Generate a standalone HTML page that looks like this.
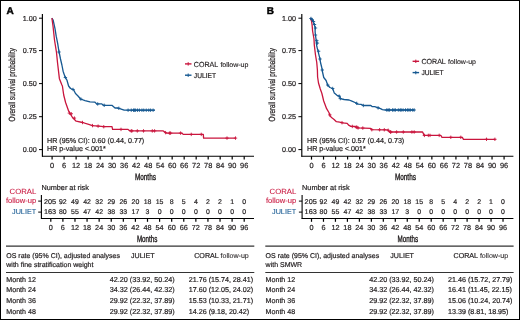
<!DOCTYPE html>
<html><head><meta charset="utf-8"><style>
html,body{margin:0;padding:0;background:#fff;overflow:hidden;}
svg{display:block;font-family:'Liberation Sans', sans-serif;will-change:transform;text-rendering:geometricPrecision;}
</style></head><body>
<svg width="520" height="320" viewBox="0 0 520 320">
<rect x="0" y="0" width="520" height="320" fill="#fff"/>
<rect x="0.5" y="0.5" width="519" height="319" fill="none" stroke="#000" stroke-width="1"/>
<g transform="translate(0,0)"><text x="6.6" y="13.7" font-size="10" font-weight="bold" fill="#000" stroke="#000" stroke-width="0.45">A</text></g>
<line x1="42.4" y1="14" x2="42.4" y2="156.8" stroke="#000" stroke-width="1.15"/><line x1="42" y1="156.2" x2="254" y2="156.2" stroke="#000" stroke-width="1.05"/><line x1="39" y1="18.20" x2="42.5" y2="18.20" stroke="#000" stroke-width="1"/><text x="36.7" y="20.8" font-size="7.2" fill="#231f20" text-anchor="end" stroke="#231f20" stroke-width="0.2">1.00</text><line x1="39" y1="50.60" x2="42.5" y2="50.60" stroke="#000" stroke-width="1"/><text x="36.7" y="53.2" font-size="7.2" fill="#231f20" text-anchor="end" stroke="#231f20" stroke-width="0.2">0.75</text><line x1="39" y1="83.60" x2="42.5" y2="83.60" stroke="#000" stroke-width="1"/><text x="36.7" y="86.2" font-size="7.2" fill="#231f20" text-anchor="end" stroke="#231f20" stroke-width="0.2">0.50</text><line x1="39" y1="116.70" x2="42.5" y2="116.70" stroke="#000" stroke-width="1"/><text x="36.7" y="119.3" font-size="7.2" fill="#231f20" text-anchor="end" stroke="#231f20" stroke-width="0.2">0.25</text><line x1="39" y1="149.60" x2="42.5" y2="149.60" stroke="#000" stroke-width="1"/><text x="36.7" y="152.2" font-size="7.2" fill="#231f20" text-anchor="end" stroke="#231f20" stroke-width="0.2">0.00</text><line x1="52.10" y1="156.2" x2="52.10" y2="159.6" stroke="#000" stroke-width="1.2"/><text x="52.1" y="167.7" font-size="7.4" fill="#231f20" text-anchor="middle" stroke="#231f20" stroke-width="0.2">0</text><line x1="64.11" y1="156.2" x2="64.11" y2="159.6" stroke="#000" stroke-width="1.2"/><text x="64.11" y="167.7" font-size="7.4" fill="#231f20" text-anchor="middle" stroke="#231f20" stroke-width="0.2">6</text><line x1="76.11" y1="156.2" x2="76.11" y2="159.6" stroke="#000" stroke-width="1.2"/><text x="76.11" y="167.7" font-size="7.4" fill="#231f20" text-anchor="middle" stroke="#231f20" stroke-width="0.2">12</text><line x1="88.12" y1="156.2" x2="88.12" y2="159.6" stroke="#000" stroke-width="1.2"/><text x="88.12" y="167.7" font-size="7.4" fill="#231f20" text-anchor="middle" stroke="#231f20" stroke-width="0.2">18</text><line x1="100.12" y1="156.2" x2="100.12" y2="159.6" stroke="#000" stroke-width="1.2"/><text x="100.12" y="167.7" font-size="7.4" fill="#231f20" text-anchor="middle" stroke="#231f20" stroke-width="0.2">24</text><line x1="112.13" y1="156.2" x2="112.13" y2="159.6" stroke="#000" stroke-width="1.2"/><text x="112.13" y="167.7" font-size="7.4" fill="#231f20" text-anchor="middle" stroke="#231f20" stroke-width="0.2">30</text><line x1="124.14" y1="156.2" x2="124.14" y2="159.6" stroke="#000" stroke-width="1.2"/><text x="124.14" y="167.7" font-size="7.4" fill="#231f20" text-anchor="middle" stroke="#231f20" stroke-width="0.2">36</text><line x1="136.14" y1="156.2" x2="136.14" y2="159.6" stroke="#000" stroke-width="1.2"/><text x="136.14" y="167.7" font-size="7.4" fill="#231f20" text-anchor="middle" stroke="#231f20" stroke-width="0.2">42</text><line x1="148.15" y1="156.2" x2="148.15" y2="159.6" stroke="#000" stroke-width="1.2"/><text x="148.15" y="167.7" font-size="7.4" fill="#231f20" text-anchor="middle" stroke="#231f20" stroke-width="0.2">48</text><line x1="160.15" y1="156.2" x2="160.15" y2="159.6" stroke="#000" stroke-width="1.2"/><text x="160.15" y="167.7" font-size="7.4" fill="#231f20" text-anchor="middle" stroke="#231f20" stroke-width="0.2">54</text><line x1="172.16" y1="156.2" x2="172.16" y2="159.6" stroke="#000" stroke-width="1.2"/><text x="172.16" y="167.7" font-size="7.4" fill="#231f20" text-anchor="middle" stroke="#231f20" stroke-width="0.2">60</text><line x1="184.17" y1="156.2" x2="184.17" y2="159.6" stroke="#000" stroke-width="1.2"/><text x="184.17" y="167.7" font-size="7.4" fill="#231f20" text-anchor="middle" stroke="#231f20" stroke-width="0.2">66</text><line x1="196.17" y1="156.2" x2="196.17" y2="159.6" stroke="#000" stroke-width="1.2"/><text x="196.17" y="167.7" font-size="7.4" fill="#231f20" text-anchor="middle" stroke="#231f20" stroke-width="0.2">72</text><line x1="208.18" y1="156.2" x2="208.18" y2="159.6" stroke="#000" stroke-width="1.2"/><text x="208.18" y="167.7" font-size="7.4" fill="#231f20" text-anchor="middle" stroke="#231f20" stroke-width="0.2">78</text><line x1="220.18" y1="156.2" x2="220.18" y2="159.6" stroke="#000" stroke-width="1.2"/><text x="220.18" y="167.7" font-size="7.4" fill="#231f20" text-anchor="middle" stroke="#231f20" stroke-width="0.2">84</text><line x1="232.19" y1="156.2" x2="232.19" y2="159.6" stroke="#000" stroke-width="1.2"/><text x="232.19" y="167.7" font-size="7.4" fill="#231f20" text-anchor="middle" stroke="#231f20" stroke-width="0.2">90</text><line x1="244.20" y1="156.2" x2="244.20" y2="159.6" stroke="#000" stroke-width="1.2"/><text x="244.2" y="167.7" font-size="7.4" fill="#231f20" text-anchor="middle" stroke="#231f20" stroke-width="0.2">96</text>
<g transform="translate(0,0)"><text transform="translate(15.2,84.85) rotate(-90)" x="0" y="0" font-size="9.0" fill="#231f20" text-anchor="middle" textLength="73.5" lengthAdjust="spacingAndGlyphs" stroke="#231f20" stroke-width="0.24">Overall survival probability</text><text transform="translate(145.4,179.5) scale(0.69,1)" x="0" y="0" font-size="9.3" fill="#231f20" stroke="#231f20" stroke-width="0.4" text-anchor="middle">Months</text></g>
<g transform="translate(0,0)"><text x="47" y="142.6" font-size="7.18" fill="#231f20" stroke="#231f20" stroke-width="0.2">HR (95% CI): 0.60 (0.44, 0.77)</text><text x="47" y="151.2" font-size="7.18" fill="#231f20" stroke="#231f20" stroke-width="0.2">HR p-value &lt;.001*</text></g>
<line x1="185" y1="63.9" x2="191.5" y2="63.9" stroke="#c9153d" stroke-width="1.4"/><line x1="188.2" y1="62.199999999999996" x2="188.2" y2="65.6" stroke="#c9153d" stroke-width="1"/><text x="193.8" y="66.7" font-size="7.4" fill="#231f20" textLength="24.4" lengthAdjust="spacingAndGlyphs" stroke="#231f20" stroke-width="0.16">CORAL</text><text x="220.4" y="66.7" font-size="6.8" fill="#231f20" textLength="28.0" lengthAdjust="spacingAndGlyphs" stroke="#231f20" stroke-width="0.12">follow-up</text><line x1="185" y1="75.2" x2="191.5" y2="75.2" stroke="#155891" stroke-width="1.4"/><line x1="188.2" y1="73.5" x2="188.2" y2="76.9" stroke="#155891" stroke-width="1"/><text x="193.8" y="78.0" font-size="7.3" fill="#231f20" textLength="22.2" lengthAdjust="spacingAndGlyphs" stroke="#231f20" stroke-width="0.2">JULIET</text>
<path d="M51.90,18.10 L53.10,20.00 L55.00,28.70 L56.20,36.20 L57.70,43.70 L58.70,50.00 L59.70,55.00 L60.50,59.00 L61.90,65.00 L63.10,71.20 L65.00,76.90 L66.90,80.00 L68.60,86.00 L70.50,88.50 L73.60,89.70 L75.50,93.50 L78.00,96.00 L80.60,99.00 L85.00,100.60 L90.00,101.90 L95.00,102.20 L96.90,104.10 L98.50,103.80 L101.50,103.80 L103.50,105.30 L111.90,105.30 L115.00,108.00 L118.00,108.00 L121.20,109.10 L124.20,110.20 L155.00,110.20" fill="none" stroke="#155891" stroke-width="1.3" stroke-linejoin="round"/><path d="M51.90,18.10 L53.00,26.00 L54.50,40.00 L56.50,52.50 L57.50,62.50 L59.40,78.70 L61.90,85.00 L62.40,86.00 L63.70,95.00 L65.60,102.50 L68.70,111.20 L72.50,117.50 L76.20,121.20 L82.50,122.50 L88.70,124.40 L92.50,125.60 L98.70,126.20 L103.70,126.70 L112.00,126.70 L112.60,129.40 L128.10,129.40 L130.00,130.90 L163.30,130.90 L166.20,133.10 L182.00,133.10 L183.20,134.40 L203.30,134.40 L203.60,138.10 L235.50,138.10" fill="none" stroke="#c9153d" stroke-width="1.3" stroke-linejoin="round"/><path d="M131.25,108.50V111.90M129.55,110.20H132.95" stroke="#155891" stroke-width="0.9" fill="none"/><path d="M133.50,108.50V111.90M131.80,110.20H135.20" stroke="#155891" stroke-width="0.9" fill="none"/><path d="M134.40,108.50V111.90M132.70,110.20H136.10" stroke="#155891" stroke-width="0.9" fill="none"/><path d="M135.60,108.50V111.90M133.90,110.20H137.30" stroke="#155891" stroke-width="0.9" fill="none"/><path d="M137.50,108.50V111.90M135.80,110.20H139.20" stroke="#155891" stroke-width="0.9" fill="none"/><path d="M139.40,108.50V111.90M137.70,110.20H141.10" stroke="#155891" stroke-width="0.9" fill="none"/><path d="M141.90,108.50V111.90M140.20,110.20H143.60" stroke="#155891" stroke-width="0.9" fill="none"/><path d="M143.75,108.50V111.90M142.05,110.20H145.45" stroke="#155891" stroke-width="0.9" fill="none"/><path d="M146.25,108.50V111.90M144.55,110.20H147.95" stroke="#155891" stroke-width="0.9" fill="none"/><path d="M148.75,108.50V111.90M147.05,110.20H150.45" stroke="#155891" stroke-width="0.9" fill="none"/><path d="M150.60,108.50V111.90M148.90,110.20H152.30" stroke="#155891" stroke-width="0.9" fill="none"/><path d="M153.10,108.50V111.90M151.40,110.20H154.80" stroke="#155891" stroke-width="0.9" fill="none"/><path d="M59.00,50.30V53.70M57.30,52.00H60.70" stroke="#155891" stroke-width="0.9" fill="none"/><path d="M65.40,75.80V79.20M63.70,77.50H67.10" stroke="#155891" stroke-width="0.9" fill="none"/><path d="M73.00,87.77V91.17M71.30,89.47H74.70" stroke="#155891" stroke-width="0.9" fill="none"/><path d="M80.90,97.41V100.81M79.20,99.11H82.60" stroke="#155891" stroke-width="0.9" fill="none"/><path d="M97.70,102.25V105.65M96.00,103.95H99.40" stroke="#155891" stroke-width="0.9" fill="none"/><path d="M104.20,103.60V107.00M102.50,105.30H105.90" stroke="#155891" stroke-width="0.9" fill="none"/><path d="M118.80,106.57V109.97M117.10,108.27H120.50" stroke="#155891" stroke-width="0.9" fill="none"/><path d="M128.10,108.50V111.90M126.40,110.20H129.80" stroke="#155891" stroke-width="0.9" fill="none"/><path d="M131.20,129.20V132.60M129.50,130.90H132.90" stroke="#c9153d" stroke-width="0.9" fill="none"/><path d="M131.90,129.20V132.60M130.20,130.90H133.60" stroke="#c9153d" stroke-width="0.9" fill="none"/><path d="M137.30,129.20V132.60M135.60,130.90H139.00" stroke="#c9153d" stroke-width="0.9" fill="none"/><path d="M143.50,129.20V132.60M141.80,130.90H145.20" stroke="#c9153d" stroke-width="0.9" fill="none"/><path d="M152.30,129.20V132.60M150.60,130.90H154.00" stroke="#c9153d" stroke-width="0.9" fill="none"/><path d="M154.60,129.20V132.60M152.90,130.90H156.30" stroke="#c9153d" stroke-width="0.9" fill="none"/><path d="M165.60,130.94V134.34M163.90,132.64H167.30" stroke="#c9153d" stroke-width="0.9" fill="none"/><path d="M169.40,131.40V134.80M167.70,133.10H171.10" stroke="#c9153d" stroke-width="0.9" fill="none"/><path d="M170.60,131.40V134.80M168.90,133.10H172.30" stroke="#c9153d" stroke-width="0.9" fill="none"/><path d="M180.60,131.40V134.80M178.90,133.10H182.30" stroke="#c9153d" stroke-width="0.9" fill="none"/><path d="M191.25,132.70V136.10M189.55,134.40H192.95" stroke="#c9153d" stroke-width="0.9" fill="none"/><path d="M201.25,132.70V136.10M199.55,134.40H202.95" stroke="#c9153d" stroke-width="0.9" fill="none"/><path d="M227.00,136.40V139.80M225.30,138.10H228.70" stroke="#c9153d" stroke-width="0.9" fill="none"/><path d="M235.50,136.40V139.80M233.80,138.10H237.20" stroke="#c9153d" stroke-width="0.9" fill="none"/><path d="M69.40,111.40V114.80M67.70,113.10H71.10" stroke="#c9153d" stroke-width="0.9" fill="none"/><path d="M71.25,112.05V115.45M69.55,113.75H72.95" stroke="#c9153d" stroke-width="0.9" fill="none"/><path d="M74.40,116.40V119.80M72.70,118.10H76.10" stroke="#c9153d" stroke-width="0.9" fill="none"/><path d="M82.50,120.80V124.20M80.80,122.50H84.20" stroke="#c9153d" stroke-width="0.9" fill="none"/><path d="M92.50,123.90V127.30M90.80,125.60H94.20" stroke="#c9153d" stroke-width="0.9" fill="none"/><path d="M98.10,124.44V127.84M96.40,126.14H99.80" stroke="#c9153d" stroke-width="0.9" fill="none"/><path d="M103.75,125.00V128.40M102.05,126.70H105.45" stroke="#c9153d" stroke-width="0.9" fill="none"/><path d="M121.00,127.70V131.10M119.30,129.40H122.70" stroke="#c9153d" stroke-width="0.9" fill="none"/>
<g transform="translate(0,0)"><text x="36.2" y="194.2" font-size="7.6" fill="#c9153d" text-anchor="end" textLength="26.6" lengthAdjust="spacingAndGlyphs" stroke="#c9153d" stroke-width="0.08">CORAL</text><text x="36.2" y="203.3" font-size="7.5" fill="#c9153d" text-anchor="end" textLength="30.3" lengthAdjust="spacingAndGlyphs" stroke="#c9153d" stroke-width="0.08">follow-up</text><text x="36.2" y="214.1" font-size="7.3" fill="#155891" text-anchor="end" textLength="24.2" lengthAdjust="spacingAndGlyphs" stroke="#155891" stroke-width="0.08">JULIET</text></g>
<text x="41.4" y="190.1" font-size="7.3" fill="#231f20" stroke="#231f20" stroke-width="0.2">Number at risk</text><line x1="41.4" y1="195" x2="41.4" y2="219" stroke="#000" stroke-width="1.1"/><line x1="41" y1="218.4" x2="254" y2="218.4" stroke="#000" stroke-width="1.05"/><line x1="38.2" y1="201.1" x2="41.4" y2="201.1" stroke="#000" stroke-width="1"/><line x1="38.2" y1="212.1" x2="41.4" y2="212.1" stroke="#000" stroke-width="1"/><text x="50.0" y="203.8" font-size="7.0" fill="#231f20" text-anchor="middle" textLength="12.2" lengthAdjust="spacingAndGlyphs" stroke="#231f20" stroke-width="0.2">205</text><text x="50.0" y="214.4" font-size="7.0" fill="#231f20" text-anchor="middle" textLength="12.2" lengthAdjust="spacingAndGlyphs" stroke="#231f20" stroke-width="0.2">163</text><line x1="50.80" y1="218.4" x2="50.80" y2="221.8" stroke="#000" stroke-width="1.2"/><text x="50.8" y="229.8" font-size="7.25" fill="#231f20" text-anchor="middle" stroke="#231f20" stroke-width="0.2">0</text><text x="62.89" y="203.8" font-size="6.95" fill="#231f20" text-anchor="middle" stroke="#231f20" stroke-width="0.2">92</text><text x="62.89" y="214.4" font-size="6.95" fill="#231f20" text-anchor="middle" stroke="#231f20" stroke-width="0.2">80</text><line x1="62.89" y1="218.4" x2="62.89" y2="221.8" stroke="#000" stroke-width="1.2"/><text x="62.89" y="229.8" font-size="7.25" fill="#231f20" text-anchor="middle" stroke="#231f20" stroke-width="0.2">6</text><text x="74.98" y="203.8" font-size="6.95" fill="#231f20" text-anchor="middle" stroke="#231f20" stroke-width="0.2">49</text><text x="74.98" y="214.4" font-size="6.95" fill="#231f20" text-anchor="middle" stroke="#231f20" stroke-width="0.2">55</text><line x1="74.98" y1="218.4" x2="74.98" y2="221.8" stroke="#000" stroke-width="1.2"/><text x="74.98" y="229.8" font-size="7.25" fill="#231f20" text-anchor="middle" stroke="#231f20" stroke-width="0.2">12</text><text x="87.06" y="203.8" font-size="6.95" fill="#231f20" text-anchor="middle" stroke="#231f20" stroke-width="0.2">42</text><text x="87.06" y="214.4" font-size="6.95" fill="#231f20" text-anchor="middle" stroke="#231f20" stroke-width="0.2">47</text><line x1="87.06" y1="218.4" x2="87.06" y2="221.8" stroke="#000" stroke-width="1.2"/><text x="87.06" y="229.8" font-size="7.25" fill="#231f20" text-anchor="middle" stroke="#231f20" stroke-width="0.2">18</text><text x="99.15" y="203.8" font-size="6.95" fill="#231f20" text-anchor="middle" stroke="#231f20" stroke-width="0.2">32</text><text x="99.15" y="214.4" font-size="6.95" fill="#231f20" text-anchor="middle" stroke="#231f20" stroke-width="0.2">42</text><line x1="99.15" y1="218.4" x2="99.15" y2="221.8" stroke="#000" stroke-width="1.2"/><text x="99.15" y="229.8" font-size="7.25" fill="#231f20" text-anchor="middle" stroke="#231f20" stroke-width="0.2">24</text><text x="111.24" y="203.8" font-size="6.95" fill="#231f20" text-anchor="middle" stroke="#231f20" stroke-width="0.2">29</text><text x="111.24" y="214.4" font-size="6.95" fill="#231f20" text-anchor="middle" stroke="#231f20" stroke-width="0.2">38</text><line x1="111.24" y1="218.4" x2="111.24" y2="221.8" stroke="#000" stroke-width="1.2"/><text x="111.24" y="229.8" font-size="7.25" fill="#231f20" text-anchor="middle" stroke="#231f20" stroke-width="0.2">30</text><text x="123.33" y="203.8" font-size="6.95" fill="#231f20" text-anchor="middle" stroke="#231f20" stroke-width="0.2">26</text><text x="123.33" y="214.4" font-size="6.95" fill="#231f20" text-anchor="middle" stroke="#231f20" stroke-width="0.2">33</text><line x1="123.33" y1="218.4" x2="123.33" y2="221.8" stroke="#000" stroke-width="1.2"/><text x="123.33" y="229.8" font-size="7.25" fill="#231f20" text-anchor="middle" stroke="#231f20" stroke-width="0.2">36</text><text x="135.41" y="203.8" font-size="6.95" fill="#231f20" text-anchor="middle" stroke="#231f20" stroke-width="0.2">20</text><text x="135.41" y="214.4" font-size="6.95" fill="#231f20" text-anchor="middle" stroke="#231f20" stroke-width="0.2">17</text><line x1="135.41" y1="218.4" x2="135.41" y2="221.8" stroke="#000" stroke-width="1.2"/><text x="135.41" y="229.8" font-size="7.25" fill="#231f20" text-anchor="middle" stroke="#231f20" stroke-width="0.2">42</text><text x="147.5" y="203.8" font-size="6.95" fill="#231f20" text-anchor="middle" stroke="#231f20" stroke-width="0.2">18</text><text x="147.5" y="214.4" font-size="6.95" fill="#231f20" text-anchor="middle" stroke="#231f20" stroke-width="0.2">3</text><line x1="147.50" y1="218.4" x2="147.50" y2="221.8" stroke="#000" stroke-width="1.2"/><text x="147.5" y="229.8" font-size="7.25" fill="#231f20" text-anchor="middle" stroke="#231f20" stroke-width="0.2">48</text><text x="159.59" y="203.8" font-size="6.95" fill="#231f20" text-anchor="middle" stroke="#231f20" stroke-width="0.2">15</text><text x="159.59" y="214.4" font-size="6.95" fill="#231f20" text-anchor="middle" stroke="#231f20" stroke-width="0.2">0</text><line x1="159.59" y1="218.4" x2="159.59" y2="221.8" stroke="#000" stroke-width="1.2"/><text x="159.59" y="229.8" font-size="7.25" fill="#231f20" text-anchor="middle" stroke="#231f20" stroke-width="0.2">54</text><text x="171.68" y="203.8" font-size="6.95" fill="#231f20" text-anchor="middle" stroke="#231f20" stroke-width="0.2">8</text><text x="171.68" y="214.4" font-size="6.95" fill="#231f20" text-anchor="middle" stroke="#231f20" stroke-width="0.2">0</text><line x1="171.68" y1="218.4" x2="171.68" y2="221.8" stroke="#000" stroke-width="1.2"/><text x="171.68" y="229.8" font-size="7.25" fill="#231f20" text-anchor="middle" stroke="#231f20" stroke-width="0.2">60</text><text x="183.76" y="203.8" font-size="6.95" fill="#231f20" text-anchor="middle" stroke="#231f20" stroke-width="0.2">5</text><text x="183.76" y="214.4" font-size="6.95" fill="#231f20" text-anchor="middle" stroke="#231f20" stroke-width="0.2">0</text><line x1="183.76" y1="218.4" x2="183.76" y2="221.8" stroke="#000" stroke-width="1.2"/><text x="183.76" y="229.8" font-size="7.25" fill="#231f20" text-anchor="middle" stroke="#231f20" stroke-width="0.2">66</text><text x="195.85" y="203.8" font-size="6.95" fill="#231f20" text-anchor="middle" stroke="#231f20" stroke-width="0.2">4</text><text x="195.85" y="214.4" font-size="6.95" fill="#231f20" text-anchor="middle" stroke="#231f20" stroke-width="0.2">0</text><line x1="195.85" y1="218.4" x2="195.85" y2="221.8" stroke="#000" stroke-width="1.2"/><text x="195.85" y="229.8" font-size="7.25" fill="#231f20" text-anchor="middle" stroke="#231f20" stroke-width="0.2">72</text><text x="207.94" y="203.8" font-size="6.95" fill="#231f20" text-anchor="middle" stroke="#231f20" stroke-width="0.2">2</text><text x="207.94" y="214.4" font-size="6.95" fill="#231f20" text-anchor="middle" stroke="#231f20" stroke-width="0.2">0</text><line x1="207.94" y1="218.4" x2="207.94" y2="221.8" stroke="#000" stroke-width="1.2"/><text x="207.94" y="229.8" font-size="7.25" fill="#231f20" text-anchor="middle" stroke="#231f20" stroke-width="0.2">78</text><text x="220.03" y="203.8" font-size="6.95" fill="#231f20" text-anchor="middle" stroke="#231f20" stroke-width="0.2">2</text><text x="220.03" y="214.4" font-size="6.95" fill="#231f20" text-anchor="middle" stroke="#231f20" stroke-width="0.2">0</text><line x1="220.03" y1="218.4" x2="220.03" y2="221.8" stroke="#000" stroke-width="1.2"/><text x="220.03" y="229.8" font-size="7.25" fill="#231f20" text-anchor="middle" stroke="#231f20" stroke-width="0.2">84</text><text x="232.11" y="203.8" font-size="6.95" fill="#231f20" text-anchor="middle" stroke="#231f20" stroke-width="0.2">1</text><text x="232.11" y="214.4" font-size="6.95" fill="#231f20" text-anchor="middle" stroke="#231f20" stroke-width="0.2">0</text><line x1="232.11" y1="218.4" x2="232.11" y2="221.8" stroke="#000" stroke-width="1.2"/><text x="232.11" y="229.8" font-size="7.25" fill="#231f20" text-anchor="middle" stroke="#231f20" stroke-width="0.2">90</text><text x="244.2" y="203.8" font-size="6.95" fill="#231f20" text-anchor="middle" stroke="#231f20" stroke-width="0.2">0</text><text x="244.2" y="214.4" font-size="6.95" fill="#231f20" text-anchor="middle" stroke="#231f20" stroke-width="0.2">0</text><line x1="244.20" y1="218.4" x2="244.20" y2="221.8" stroke="#000" stroke-width="1.2"/><text x="244.2" y="229.8" font-size="7.25" fill="#231f20" text-anchor="middle" stroke="#231f20" stroke-width="0.2">96</text><text transform="translate(147.1,242.4) scale(0.67,1)" x="0" y="0" font-size="9.3" fill="#231f20" stroke="#231f20" stroke-width="0.4" text-anchor="middle">Months</text>
<g transform="translate(0,0)"><line x1="6" y1="246.1" x2="254.3" y2="246.1" stroke="#333" stroke-width="1.3"/><line x1="6" y1="272.5" x2="254.3" y2="272.5" stroke="#333" stroke-width="1.05"/><text x="6.3" y="257.8" font-size="7.0" fill="#231f20" stroke="#231f20" stroke-width="0.2">OS rate (95% CI), adjusted analyses</text><text x="6.3" y="266.6" font-size="7.0" fill="#231f20" stroke="#231f20" stroke-width="0.2">with fine stratification weight</text><text x="131" y="257.9" font-size="7.1" fill="#231f20" stroke="#231f20" stroke-width="0.2">JULIET</text><text x="194.2" y="257.9" font-size="7.2" fill="#231f20" textLength="24.6" lengthAdjust="spacingAndGlyphs" stroke="#231f20" stroke-width="0.2">CORAL</text><text x="220.6" y="257.9" font-size="6.9" fill="#231f20" textLength="28.2" lengthAdjust="spacingAndGlyphs" stroke="#231f20" stroke-width="0.08">follow-up</text><text x="6.3" y="281.7" font-size="7.1" fill="#231f20" stroke="#231f20" stroke-width="0.2">Month 12</text><text x="174.6" y="281.7" font-size="7.2" fill="#231f20" text-anchor="end" stroke="#231f20" stroke-width="0.2">42.20 (33.92, 50.24)</text><text x="188.8" y="281.7" font-size="7.15" fill="#231f20" stroke="#231f20" stroke-width="0.2">21.76 (15.74, 28.41)</text><text x="6.3" y="292.47" font-size="7.1" fill="#231f20" stroke="#231f20" stroke-width="0.2">Month 24</text><text x="174.6" y="292.47" font-size="7.2" fill="#231f20" text-anchor="end" stroke="#231f20" stroke-width="0.2">34.32 (26.44, 42.32)</text><text x="188.8" y="292.47" font-size="7.15" fill="#231f20" stroke="#231f20" stroke-width="0.2">17.60 (12.05, 24.02)</text><text x="6.3" y="303.24" font-size="7.1" fill="#231f20" stroke="#231f20" stroke-width="0.2">Month 36</text><text x="174.6" y="303.24" font-size="7.2" fill="#231f20" text-anchor="end" stroke="#231f20" stroke-width="0.2">29.92 (22.32, 37.89)</text><text x="188.8" y="303.24" font-size="7.15" fill="#231f20" stroke="#231f20" stroke-width="0.2">15.53 (10.33, 21.71)</text><text x="6.3" y="314.01" font-size="7.1" fill="#231f20" stroke="#231f20" stroke-width="0.2">Month 48</text><text x="174.6" y="314.01" font-size="7.2" fill="#231f20" text-anchor="end" stroke="#231f20" stroke-width="0.2">29.92 (22.32, 37.89)</text><text x="188.8" y="314.01" font-size="7.15" fill="#231f20" stroke="#231f20" stroke-width="0.2">14.26 (9.18, 20.42)</text></g>
<g transform="translate(260.2,0)"><text x="6.6" y="13.7" font-size="10" font-weight="bold" fill="#000" stroke="#000" stroke-width="0.45">B</text></g>
<line x1="301.79999999999995" y1="14" x2="301.79999999999995" y2="156.8" stroke="#000" stroke-width="1.15"/><line x1="301.4" y1="156.2" x2="513.4" y2="156.2" stroke="#000" stroke-width="1.05"/><line x1="298.4" y1="18.20" x2="301.9" y2="18.20" stroke="#000" stroke-width="1"/><text x="296.1" y="20.8" font-size="7.2" fill="#231f20" text-anchor="end" stroke="#231f20" stroke-width="0.2">1.00</text><line x1="298.4" y1="50.60" x2="301.9" y2="50.60" stroke="#000" stroke-width="1"/><text x="296.1" y="53.2" font-size="7.2" fill="#231f20" text-anchor="end" stroke="#231f20" stroke-width="0.2">0.75</text><line x1="298.4" y1="83.60" x2="301.9" y2="83.60" stroke="#000" stroke-width="1"/><text x="296.1" y="86.2" font-size="7.2" fill="#231f20" text-anchor="end" stroke="#231f20" stroke-width="0.2">0.50</text><line x1="298.4" y1="116.70" x2="301.9" y2="116.70" stroke="#000" stroke-width="1"/><text x="296.1" y="119.3" font-size="7.2" fill="#231f20" text-anchor="end" stroke="#231f20" stroke-width="0.2">0.25</text><line x1="298.4" y1="149.60" x2="301.9" y2="149.60" stroke="#000" stroke-width="1"/><text x="296.1" y="152.2" font-size="7.2" fill="#231f20" text-anchor="end" stroke="#231f20" stroke-width="0.2">0.00</text><line x1="311.50" y1="156.2" x2="311.50" y2="159.6" stroke="#000" stroke-width="1.2"/><text x="311.5" y="167.7" font-size="7.4" fill="#231f20" text-anchor="middle" stroke="#231f20" stroke-width="0.2">0</text><line x1="323.54" y1="156.2" x2="323.54" y2="159.6" stroke="#000" stroke-width="1.2"/><text x="323.54" y="167.7" font-size="7.4" fill="#231f20" text-anchor="middle" stroke="#231f20" stroke-width="0.2">6</text><line x1="335.57" y1="156.2" x2="335.57" y2="159.6" stroke="#000" stroke-width="1.2"/><text x="335.57" y="167.7" font-size="7.4" fill="#231f20" text-anchor="middle" stroke="#231f20" stroke-width="0.2">12</text><line x1="347.61" y1="156.2" x2="347.61" y2="159.6" stroke="#000" stroke-width="1.2"/><text x="347.61" y="167.7" font-size="7.4" fill="#231f20" text-anchor="middle" stroke="#231f20" stroke-width="0.2">18</text><line x1="359.64" y1="156.2" x2="359.64" y2="159.6" stroke="#000" stroke-width="1.2"/><text x="359.64" y="167.7" font-size="7.4" fill="#231f20" text-anchor="middle" stroke="#231f20" stroke-width="0.2">24</text><line x1="371.68" y1="156.2" x2="371.68" y2="159.6" stroke="#000" stroke-width="1.2"/><text x="371.68" y="167.7" font-size="7.4" fill="#231f20" text-anchor="middle" stroke="#231f20" stroke-width="0.2">30</text><line x1="383.72" y1="156.2" x2="383.72" y2="159.6" stroke="#000" stroke-width="1.2"/><text x="383.72" y="167.7" font-size="7.4" fill="#231f20" text-anchor="middle" stroke="#231f20" stroke-width="0.2">36</text><line x1="395.75" y1="156.2" x2="395.75" y2="159.6" stroke="#000" stroke-width="1.2"/><text x="395.75" y="167.7" font-size="7.4" fill="#231f20" text-anchor="middle" stroke="#231f20" stroke-width="0.2">42</text><line x1="407.79" y1="156.2" x2="407.79" y2="159.6" stroke="#000" stroke-width="1.2"/><text x="407.79" y="167.7" font-size="7.4" fill="#231f20" text-anchor="middle" stroke="#231f20" stroke-width="0.2">48</text><line x1="419.82" y1="156.2" x2="419.82" y2="159.6" stroke="#000" stroke-width="1.2"/><text x="419.82" y="167.7" font-size="7.4" fill="#231f20" text-anchor="middle" stroke="#231f20" stroke-width="0.2">54</text><line x1="431.86" y1="156.2" x2="431.86" y2="159.6" stroke="#000" stroke-width="1.2"/><text x="431.86" y="167.7" font-size="7.4" fill="#231f20" text-anchor="middle" stroke="#231f20" stroke-width="0.2">60</text><line x1="443.90" y1="156.2" x2="443.90" y2="159.6" stroke="#000" stroke-width="1.2"/><text x="443.9" y="167.7" font-size="7.4" fill="#231f20" text-anchor="middle" stroke="#231f20" stroke-width="0.2">66</text><line x1="455.93" y1="156.2" x2="455.93" y2="159.6" stroke="#000" stroke-width="1.2"/><text x="455.93" y="167.7" font-size="7.4" fill="#231f20" text-anchor="middle" stroke="#231f20" stroke-width="0.2">72</text><line x1="467.97" y1="156.2" x2="467.97" y2="159.6" stroke="#000" stroke-width="1.2"/><text x="467.97" y="167.7" font-size="7.4" fill="#231f20" text-anchor="middle" stroke="#231f20" stroke-width="0.2">78</text><line x1="480.00" y1="156.2" x2="480.00" y2="159.6" stroke="#000" stroke-width="1.2"/><text x="480.0" y="167.7" font-size="7.4" fill="#231f20" text-anchor="middle" stroke="#231f20" stroke-width="0.2">84</text><line x1="492.04" y1="156.2" x2="492.04" y2="159.6" stroke="#000" stroke-width="1.2"/><text x="492.04" y="167.7" font-size="7.4" fill="#231f20" text-anchor="middle" stroke="#231f20" stroke-width="0.2">90</text><line x1="504.08" y1="156.2" x2="504.08" y2="159.6" stroke="#000" stroke-width="1.2"/><text x="504.08" y="167.7" font-size="7.4" fill="#231f20" text-anchor="middle" stroke="#231f20" stroke-width="0.2">96</text>
<g transform="translate(260,0)"><text transform="translate(15.2,84.85) rotate(-90)" x="0" y="0" font-size="9.0" fill="#231f20" text-anchor="middle" textLength="73.5" lengthAdjust="spacingAndGlyphs" stroke="#231f20" stroke-width="0.24">Overall survival probability</text><text transform="translate(145.4,179.5) scale(0.69,1)" x="0" y="0" font-size="9.3" fill="#231f20" stroke="#231f20" stroke-width="0.4" text-anchor="middle">Months</text></g>
<g transform="translate(260,0)"><text x="47" y="142.6" font-size="7.18" fill="#231f20" stroke="#231f20" stroke-width="0.2">HR (95% CI): 0.57 (0.44, 0.73)</text><text x="47" y="151.2" font-size="7.18" fill="#231f20" stroke="#231f20" stroke-width="0.2">HR p-value &lt;.001*</text></g>
<line x1="412.6" y1="61.3" x2="419.1" y2="61.3" stroke="#c9153d" stroke-width="1.4"/><line x1="415.8" y1="59.599999999999994" x2="415.8" y2="63.0" stroke="#c9153d" stroke-width="1"/><text x="421.4" y="64.1" font-size="7.4" fill="#231f20" textLength="24.4" lengthAdjust="spacingAndGlyphs" stroke="#231f20" stroke-width="0.16">CORAL</text><text x="448.0" y="64.1" font-size="6.8" fill="#231f20" textLength="28.0" lengthAdjust="spacingAndGlyphs" stroke="#231f20" stroke-width="0.12">follow-up</text><line x1="412.6" y1="72.6" x2="419.1" y2="72.6" stroke="#155891" stroke-width="1.4"/><line x1="415.8" y1="70.89999999999999" x2="415.8" y2="74.3" stroke="#155891" stroke-width="1"/><text x="421.4" y="75.4" font-size="7.3" fill="#231f20" textLength="22.2" lengthAdjust="spacingAndGlyphs" stroke="#231f20" stroke-width="0.2">JULIET</text>
<path d="M310.20,18.10 L311.50,19.00 L313.00,21.00 L314.00,24.00 L315.00,27.00 L315.20,33.00 L315.50,35.00 L316.10,40.00 L316.75,46.20 L318.00,51.20 L319.90,58.70 L320.50,62.50 L321.75,67.50 L322.30,71.00 L323.75,77.50 L326.10,80.50 L327.70,85.00 L329.90,87.50 L332.70,88.50 L334.30,93.10 L337.00,95.30 L339.80,96.40 L340.30,98.60 L344.10,99.50 L349.10,100.00 L351.30,100.80 L356.20,103.00 L357.80,104.10 L361.10,104.30 L363.30,105.50 L370.90,105.50 L372.30,106.70 L374.70,106.70 L377.60,107.70 L380.50,108.65 L382.40,109.60 L385.30,110.00 L414.20,110.00" fill="none" stroke="#155891" stroke-width="1.3" stroke-linejoin="round"/><path d="M310.30,18.10 L311.50,21.00 L312.10,25.00 L312.60,31.00 L314.00,39.00 L314.30,45.00 L315.50,55.00 L316.75,62.50 L317.40,70.00 L317.60,77.00 L318.50,83.00 L320.30,89.00 L321.90,93.50 L323.70,101.00 L325.20,105.00 L326.60,108.70 L328.90,112.50 L330.30,116.20 L332.20,118.10 L334.10,119.50 L336.40,121.70 L339.70,122.10 L342.50,122.80 L347.20,123.30 L348.60,125.10 L350.90,126.40 L355.00,126.50 L358.10,127.90 L370.60,128.30 L371.80,129.70 L387.80,129.80 L389.60,132.00 L422.60,132.00 L424.20,135.40 L440.80,135.40 L442.00,137.30 L462.30,137.30 L463.50,139.30 L495.40,139.30" fill="none" stroke="#c9153d" stroke-width="1.3" stroke-linejoin="round"/><path d="M311.00,16.80V20.20M309.30,18.50H312.70" stroke="#155891" stroke-width="0.9" fill="none"/><path d="M312.00,17.80V21.20M310.30,19.50H313.70" stroke="#155891" stroke-width="0.9" fill="none"/><path d="M313.50,19.80V23.20M311.80,21.50H315.20" stroke="#155891" stroke-width="0.9" fill="none"/><path d="M314.50,22.80V26.20M312.80,24.50H316.20" stroke="#155891" stroke-width="0.9" fill="none"/><path d="M315.50,26.30V29.70M313.80,28.00H317.20" stroke="#155891" stroke-width="0.9" fill="none"/><path d="M315.50,33.30V36.70M313.80,35.00H317.20" stroke="#155891" stroke-width="0.9" fill="none"/><path d="M316.75,38.90V42.30M315.05,40.60H318.45" stroke="#155891" stroke-width="0.9" fill="none"/><path d="M317.40,41.40V44.80M315.70,43.10H319.10" stroke="#155891" stroke-width="0.9" fill="none"/><path d="M318.60,49.55V52.95M316.90,51.25H320.30" stroke="#155891" stroke-width="0.9" fill="none"/><path d="M320.00,57.30V60.70M318.30,59.00H321.70" stroke="#155891" stroke-width="0.9" fill="none"/><path d="M322.30,68.30V71.70M320.60,70.00H324.00" stroke="#155891" stroke-width="0.9" fill="none"/><path d="M327.70,83.30V86.70M326.00,85.00H329.40" stroke="#155891" stroke-width="0.9" fill="none"/><path d="M332.70,86.80V90.20M331.00,88.50H334.40" stroke="#155891" stroke-width="0.9" fill="none"/><path d="M339.20,94.46V97.86M337.50,96.16H340.90" stroke="#155891" stroke-width="0.9" fill="none"/><path d="M340.30,96.90V100.30M338.60,98.60H342.00" stroke="#155891" stroke-width="0.9" fill="none"/><path d="M356.70,101.64V105.04M355.00,103.34H358.40" stroke="#155891" stroke-width="0.9" fill="none"/><path d="M363.30,103.80V107.20M361.60,105.50H365.00" stroke="#155891" stroke-width="0.9" fill="none"/><path d="M378.10,106.16V109.56M376.40,107.86H379.80" stroke="#155891" stroke-width="0.9" fill="none"/><path d="M386.75,108.30V111.70M385.05,110.00H388.45" stroke="#155891" stroke-width="0.9" fill="none"/><path d="M388.20,108.30V111.70M386.50,110.00H389.90" stroke="#155891" stroke-width="0.9" fill="none"/><path d="M389.60,108.30V111.70M387.90,110.00H391.30" stroke="#155891" stroke-width="0.9" fill="none"/><path d="M392.50,108.30V111.70M390.80,110.00H394.20" stroke="#155891" stroke-width="0.9" fill="none"/><path d="M394.00,108.30V111.70M392.30,110.00H395.70" stroke="#155891" stroke-width="0.9" fill="none"/><path d="M395.40,108.30V111.70M393.70,110.00H397.10" stroke="#155891" stroke-width="0.9" fill="none"/><path d="M398.30,108.30V111.70M396.60,110.00H400.00" stroke="#155891" stroke-width="0.9" fill="none"/><path d="M400.20,108.30V111.70M398.50,110.00H401.90" stroke="#155891" stroke-width="0.9" fill="none"/><path d="M401.20,108.30V111.70M399.50,110.00H402.90" stroke="#155891" stroke-width="0.9" fill="none"/><path d="M403.10,108.30V111.70M401.40,110.00H404.80" stroke="#155891" stroke-width="0.9" fill="none"/><path d="M405.50,108.30V111.70M403.80,110.00H407.20" stroke="#155891" stroke-width="0.9" fill="none"/><path d="M407.40,108.30V111.70M405.70,110.00H409.10" stroke="#155891" stroke-width="0.9" fill="none"/><path d="M408.90,108.30V111.70M407.20,110.00H410.60" stroke="#155891" stroke-width="0.9" fill="none"/><path d="M410.30,108.30V111.70M408.60,110.00H412.00" stroke="#155891" stroke-width="0.9" fill="none"/><path d="M412.70,108.30V111.70M411.00,110.00H414.40" stroke="#155891" stroke-width="0.9" fill="none"/><path d="M414.20,108.30V111.70M412.50,110.00H415.90" stroke="#155891" stroke-width="0.9" fill="none"/><path d="M329.80,113.18V116.58M328.10,114.88H331.50" stroke="#c9153d" stroke-width="0.9" fill="none"/><path d="M342.00,120.97V124.38M340.30,122.67H343.70" stroke="#c9153d" stroke-width="0.9" fill="none"/><path d="M352.30,124.73V128.13M350.60,126.43H354.00" stroke="#c9153d" stroke-width="0.9" fill="none"/><path d="M356.20,125.34V128.74M354.50,127.04H357.90" stroke="#c9153d" stroke-width="0.9" fill="none"/><path d="M357.00,125.70V129.10M355.30,127.40H358.70" stroke="#c9153d" stroke-width="0.9" fill="none"/><path d="M358.10,126.20V129.60M356.40,127.90H359.80" stroke="#c9153d" stroke-width="0.9" fill="none"/><path d="M362.80,126.35V129.75M361.10,128.05H364.50" stroke="#c9153d" stroke-width="0.9" fill="none"/><path d="M371.80,128.00V131.40M370.10,129.70H373.50" stroke="#c9153d" stroke-width="0.9" fill="none"/><path d="M379.60,128.05V131.45M377.90,129.75H381.30" stroke="#c9153d" stroke-width="0.9" fill="none"/><path d="M384.30,128.08V131.48M382.60,129.78H386.00" stroke="#c9153d" stroke-width="0.9" fill="none"/><path d="M388.20,128.59V131.99M386.50,130.29H389.90" stroke="#c9153d" stroke-width="0.9" fill="none"/><path d="M390.50,130.30V133.70M388.80,132.00H392.20" stroke="#c9153d" stroke-width="0.9" fill="none"/><path d="M390.80,130.30V133.70M389.10,132.00H392.50" stroke="#c9153d" stroke-width="0.9" fill="none"/><path d="M396.60,130.30V133.70M394.90,132.00H398.30" stroke="#c9153d" stroke-width="0.9" fill="none"/><path d="M403.30,130.30V133.70M401.60,132.00H405.00" stroke="#c9153d" stroke-width="0.9" fill="none"/><path d="M411.90,130.30V133.70M410.20,132.00H413.60" stroke="#c9153d" stroke-width="0.9" fill="none"/><path d="M414.20,130.30V133.70M412.50,132.00H415.90" stroke="#c9153d" stroke-width="0.9" fill="none"/><path d="M424.40,133.70V137.10M422.70,135.40H426.10" stroke="#c9153d" stroke-width="0.9" fill="none"/><path d="M428.30,133.70V137.10M426.60,135.40H430.00" stroke="#c9153d" stroke-width="0.9" fill="none"/><path d="M430.00,133.70V137.10M428.30,135.40H431.70" stroke="#c9153d" stroke-width="0.9" fill="none"/><path d="M439.20,133.70V137.10M437.50,135.40H440.90" stroke="#c9153d" stroke-width="0.9" fill="none"/><path d="M450.80,135.60V139.00M449.10,137.30H452.50" stroke="#c9153d" stroke-width="0.9" fill="none"/><path d="M460.80,135.60V139.00M459.10,137.30H462.50" stroke="#c9153d" stroke-width="0.9" fill="none"/><path d="M486.50,137.60V141.00M484.80,139.30H488.20" stroke="#c9153d" stroke-width="0.9" fill="none"/><path d="M494.90,137.60V141.00M493.20,139.30H496.60" stroke="#c9153d" stroke-width="0.9" fill="none"/>
<g transform="translate(260,0)"><text x="36.2" y="194.2" font-size="7.6" fill="#c9153d" text-anchor="end" textLength="26.6" lengthAdjust="spacingAndGlyphs" stroke="#c9153d" stroke-width="0.08">CORAL</text><text x="36.2" y="203.3" font-size="7.5" fill="#c9153d" text-anchor="end" textLength="30.3" lengthAdjust="spacingAndGlyphs" stroke="#c9153d" stroke-width="0.08">follow-up</text><text x="36.2" y="214.1" font-size="7.3" fill="#155891" text-anchor="end" textLength="24.2" lengthAdjust="spacingAndGlyphs" stroke="#155891" stroke-width="0.08">JULIET</text></g>
<text x="302.1" y="190.1" font-size="7.3" fill="#231f20" stroke="#231f20" stroke-width="0.2">Number at risk</text><line x1="302.09999999999997" y1="195" x2="302.09999999999997" y2="219" stroke="#000" stroke-width="1.1"/><line x1="301.7" y1="218.4" x2="513.4" y2="218.4" stroke="#000" stroke-width="1.05"/><line x1="298.9" y1="201.1" x2="302.09999999999997" y2="201.1" stroke="#000" stroke-width="1"/><line x1="298.9" y1="212.1" x2="302.09999999999997" y2="212.1" stroke="#000" stroke-width="1"/><text x="310.7" y="203.8" font-size="7.0" fill="#231f20" text-anchor="middle" textLength="12.2" lengthAdjust="spacingAndGlyphs" stroke="#231f20" stroke-width="0.2">205</text><text x="310.7" y="214.4" font-size="7.0" fill="#231f20" text-anchor="middle" textLength="12.2" lengthAdjust="spacingAndGlyphs" stroke="#231f20" stroke-width="0.2">163</text><line x1="311.50" y1="218.4" x2="311.50" y2="221.8" stroke="#000" stroke-width="1.2"/><text x="311.5" y="229.8" font-size="7.25" fill="#231f20" text-anchor="middle" stroke="#231f20" stroke-width="0.2">0</text><text x="323.47" y="203.8" font-size="6.95" fill="#231f20" text-anchor="middle" stroke="#231f20" stroke-width="0.2">92</text><text x="323.47" y="214.4" font-size="6.95" fill="#231f20" text-anchor="middle" stroke="#231f20" stroke-width="0.2">80</text><line x1="323.47" y1="218.4" x2="323.47" y2="221.8" stroke="#000" stroke-width="1.2"/><text x="323.47" y="229.8" font-size="7.25" fill="#231f20" text-anchor="middle" stroke="#231f20" stroke-width="0.2">6</text><text x="335.44" y="203.8" font-size="6.95" fill="#231f20" text-anchor="middle" stroke="#231f20" stroke-width="0.2">49</text><text x="335.44" y="214.4" font-size="6.95" fill="#231f20" text-anchor="middle" stroke="#231f20" stroke-width="0.2">55</text><line x1="335.44" y1="218.4" x2="335.44" y2="221.8" stroke="#000" stroke-width="1.2"/><text x="335.44" y="229.8" font-size="7.25" fill="#231f20" text-anchor="middle" stroke="#231f20" stroke-width="0.2">12</text><text x="347.41" y="203.8" font-size="6.95" fill="#231f20" text-anchor="middle" stroke="#231f20" stroke-width="0.2">42</text><text x="347.41" y="214.4" font-size="6.95" fill="#231f20" text-anchor="middle" stroke="#231f20" stroke-width="0.2">47</text><line x1="347.41" y1="218.4" x2="347.41" y2="221.8" stroke="#000" stroke-width="1.2"/><text x="347.41" y="229.8" font-size="7.25" fill="#231f20" text-anchor="middle" stroke="#231f20" stroke-width="0.2">18</text><text x="359.38" y="203.8" font-size="6.95" fill="#231f20" text-anchor="middle" stroke="#231f20" stroke-width="0.2">32</text><text x="359.38" y="214.4" font-size="6.95" fill="#231f20" text-anchor="middle" stroke="#231f20" stroke-width="0.2">42</text><line x1="359.38" y1="218.4" x2="359.38" y2="221.8" stroke="#000" stroke-width="1.2"/><text x="359.38" y="229.8" font-size="7.25" fill="#231f20" text-anchor="middle" stroke="#231f20" stroke-width="0.2">24</text><text x="371.35" y="203.8" font-size="6.95" fill="#231f20" text-anchor="middle" stroke="#231f20" stroke-width="0.2">29</text><text x="371.35" y="214.4" font-size="6.95" fill="#231f20" text-anchor="middle" stroke="#231f20" stroke-width="0.2">38</text><line x1="371.35" y1="218.4" x2="371.35" y2="221.8" stroke="#000" stroke-width="1.2"/><text x="371.35" y="229.8" font-size="7.25" fill="#231f20" text-anchor="middle" stroke="#231f20" stroke-width="0.2">30</text><text x="383.32" y="203.8" font-size="6.95" fill="#231f20" text-anchor="middle" stroke="#231f20" stroke-width="0.2">26</text><text x="383.32" y="214.4" font-size="6.95" fill="#231f20" text-anchor="middle" stroke="#231f20" stroke-width="0.2">33</text><line x1="383.32" y1="218.4" x2="383.32" y2="221.8" stroke="#000" stroke-width="1.2"/><text x="383.32" y="229.8" font-size="7.25" fill="#231f20" text-anchor="middle" stroke="#231f20" stroke-width="0.2">36</text><text x="395.29" y="203.8" font-size="6.95" fill="#231f20" text-anchor="middle" stroke="#231f20" stroke-width="0.2">20</text><text x="395.29" y="214.4" font-size="6.95" fill="#231f20" text-anchor="middle" stroke="#231f20" stroke-width="0.2">17</text><line x1="395.29" y1="218.4" x2="395.29" y2="221.8" stroke="#000" stroke-width="1.2"/><text x="395.29" y="229.8" font-size="7.25" fill="#231f20" text-anchor="middle" stroke="#231f20" stroke-width="0.2">42</text><text x="407.26" y="203.8" font-size="6.95" fill="#231f20" text-anchor="middle" stroke="#231f20" stroke-width="0.2">18</text><text x="407.26" y="214.4" font-size="6.95" fill="#231f20" text-anchor="middle" stroke="#231f20" stroke-width="0.2">3</text><line x1="407.26" y1="218.4" x2="407.26" y2="221.8" stroke="#000" stroke-width="1.2"/><text x="407.26" y="229.8" font-size="7.25" fill="#231f20" text-anchor="middle" stroke="#231f20" stroke-width="0.2">48</text><text x="419.23" y="203.8" font-size="6.95" fill="#231f20" text-anchor="middle" stroke="#231f20" stroke-width="0.2">15</text><text x="419.23" y="214.4" font-size="6.95" fill="#231f20" text-anchor="middle" stroke="#231f20" stroke-width="0.2">0</text><line x1="419.23" y1="218.4" x2="419.23" y2="221.8" stroke="#000" stroke-width="1.2"/><text x="419.23" y="229.8" font-size="7.25" fill="#231f20" text-anchor="middle" stroke="#231f20" stroke-width="0.2">54</text><text x="431.2" y="203.8" font-size="6.95" fill="#231f20" text-anchor="middle" stroke="#231f20" stroke-width="0.2">8</text><text x="431.2" y="214.4" font-size="6.95" fill="#231f20" text-anchor="middle" stroke="#231f20" stroke-width="0.2">0</text><line x1="431.20" y1="218.4" x2="431.20" y2="221.8" stroke="#000" stroke-width="1.2"/><text x="431.2" y="229.8" font-size="7.25" fill="#231f20" text-anchor="middle" stroke="#231f20" stroke-width="0.2">60</text><text x="443.17" y="203.8" font-size="6.95" fill="#231f20" text-anchor="middle" stroke="#231f20" stroke-width="0.2">5</text><text x="443.17" y="214.4" font-size="6.95" fill="#231f20" text-anchor="middle" stroke="#231f20" stroke-width="0.2">0</text><line x1="443.17" y1="218.4" x2="443.17" y2="221.8" stroke="#000" stroke-width="1.2"/><text x="443.17" y="229.8" font-size="7.25" fill="#231f20" text-anchor="middle" stroke="#231f20" stroke-width="0.2">66</text><text x="455.14" y="203.8" font-size="6.95" fill="#231f20" text-anchor="middle" stroke="#231f20" stroke-width="0.2">4</text><text x="455.14" y="214.4" font-size="6.95" fill="#231f20" text-anchor="middle" stroke="#231f20" stroke-width="0.2">0</text><line x1="455.14" y1="218.4" x2="455.14" y2="221.8" stroke="#000" stroke-width="1.2"/><text x="455.14" y="229.8" font-size="7.25" fill="#231f20" text-anchor="middle" stroke="#231f20" stroke-width="0.2">72</text><text x="467.11" y="203.8" font-size="6.95" fill="#231f20" text-anchor="middle" stroke="#231f20" stroke-width="0.2">2</text><text x="467.11" y="214.4" font-size="6.95" fill="#231f20" text-anchor="middle" stroke="#231f20" stroke-width="0.2">0</text><line x1="467.11" y1="218.4" x2="467.11" y2="221.8" stroke="#000" stroke-width="1.2"/><text x="467.11" y="229.8" font-size="7.25" fill="#231f20" text-anchor="middle" stroke="#231f20" stroke-width="0.2">78</text><text x="479.08" y="203.8" font-size="6.95" fill="#231f20" text-anchor="middle" stroke="#231f20" stroke-width="0.2">2</text><text x="479.08" y="214.4" font-size="6.95" fill="#231f20" text-anchor="middle" stroke="#231f20" stroke-width="0.2">0</text><line x1="479.08" y1="218.4" x2="479.08" y2="221.8" stroke="#000" stroke-width="1.2"/><text x="479.08" y="229.8" font-size="7.25" fill="#231f20" text-anchor="middle" stroke="#231f20" stroke-width="0.2">84</text><text x="491.05" y="203.8" font-size="6.95" fill="#231f20" text-anchor="middle" stroke="#231f20" stroke-width="0.2">1</text><text x="491.05" y="214.4" font-size="6.95" fill="#231f20" text-anchor="middle" stroke="#231f20" stroke-width="0.2">0</text><line x1="491.05" y1="218.4" x2="491.05" y2="221.8" stroke="#000" stroke-width="1.2"/><text x="491.05" y="229.8" font-size="7.25" fill="#231f20" text-anchor="middle" stroke="#231f20" stroke-width="0.2">90</text><text x="503.02" y="203.8" font-size="6.95" fill="#231f20" text-anchor="middle" stroke="#231f20" stroke-width="0.2">0</text><text x="503.02" y="214.4" font-size="6.95" fill="#231f20" text-anchor="middle" stroke="#231f20" stroke-width="0.2">0</text><line x1="503.02" y1="218.4" x2="503.02" y2="221.8" stroke="#000" stroke-width="1.2"/><text x="503.02" y="229.8" font-size="7.25" fill="#231f20" text-anchor="middle" stroke="#231f20" stroke-width="0.2">96</text><text transform="translate(407.79999999999995,242.4) scale(0.67,1)" x="0" y="0" font-size="9.3" fill="#231f20" stroke="#231f20" stroke-width="0.4" text-anchor="middle">Months</text>
<g transform="translate(259.3,0)"><line x1="6" y1="246.1" x2="254.3" y2="246.1" stroke="#333" stroke-width="1.3"/><line x1="6" y1="272.5" x2="254.3" y2="272.5" stroke="#333" stroke-width="1.05"/><text x="6.3" y="257.8" font-size="7.0" fill="#231f20" stroke="#231f20" stroke-width="0.2">OS rate (95% CI), adjusted analyses</text><text x="6.3" y="266.6" font-size="7.0" fill="#231f20" stroke="#231f20" stroke-width="0.2">with SMWR</text><text x="131" y="257.9" font-size="7.1" fill="#231f20" stroke="#231f20" stroke-width="0.2">JULIET</text><text x="194.2" y="257.9" font-size="7.2" fill="#231f20" textLength="24.6" lengthAdjust="spacingAndGlyphs" stroke="#231f20" stroke-width="0.2">CORAL</text><text x="220.6" y="257.9" font-size="6.9" fill="#231f20" textLength="28.2" lengthAdjust="spacingAndGlyphs" stroke="#231f20" stroke-width="0.08">follow-up</text><text x="6.3" y="281.7" font-size="7.1" fill="#231f20" stroke="#231f20" stroke-width="0.2">Month 12</text><text x="174.6" y="281.7" font-size="7.2" fill="#231f20" text-anchor="end" stroke="#231f20" stroke-width="0.2">42.20 (33.92, 50.24)</text><text x="188.8" y="281.7" font-size="7.15" fill="#231f20" stroke="#231f20" stroke-width="0.2">21.46 (15.72, 27.79)</text><text x="6.3" y="292.47" font-size="7.1" fill="#231f20" stroke="#231f20" stroke-width="0.2">Month 24</text><text x="174.6" y="292.47" font-size="7.2" fill="#231f20" text-anchor="end" stroke="#231f20" stroke-width="0.2">34.32 (26.44, 42.32)</text><text x="188.8" y="292.47" font-size="7.15" fill="#231f20" stroke="#231f20" stroke-width="0.2">16.41 (11.45, 22.15)</text><text x="6.3" y="303.24" font-size="7.1" fill="#231f20" stroke="#231f20" stroke-width="0.2">Month 36</text><text x="174.6" y="303.24" font-size="7.2" fill="#231f20" text-anchor="end" stroke="#231f20" stroke-width="0.2">29.92 (22.32, 37.89)</text><text x="188.8" y="303.24" font-size="7.15" fill="#231f20" stroke="#231f20" stroke-width="0.2">15.06 (10.24, 20.74)</text><text x="6.3" y="314.01" font-size="7.1" fill="#231f20" stroke="#231f20" stroke-width="0.2">Month 48</text><text x="174.6" y="314.01" font-size="7.2" fill="#231f20" text-anchor="end" stroke="#231f20" stroke-width="0.2">29.92 (22.32, 37.89)</text><text x="188.8" y="314.01" font-size="7.15" fill="#231f20" stroke="#231f20" stroke-width="0.2">13.39 (8.81, 18.95)</text></g>
</svg>
</body></html>
